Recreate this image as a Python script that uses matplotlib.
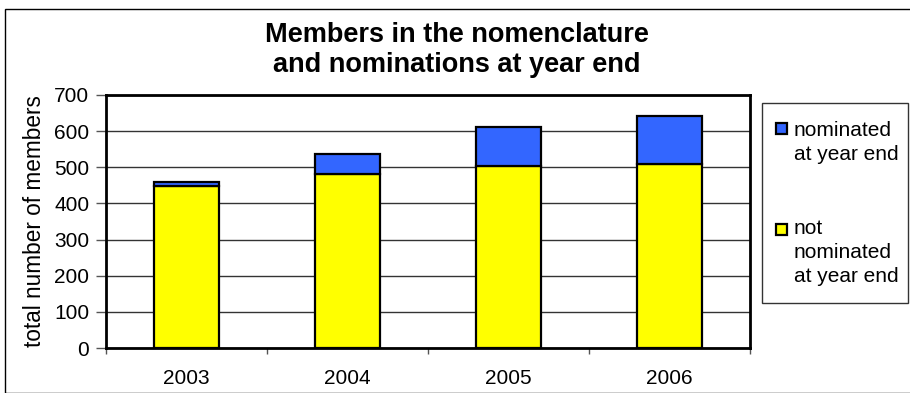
import matplotlib
matplotlib.use("Agg")
import matplotlib.pyplot as plt
from matplotlib.patches import Rectangle
import numpy as np

plt.rcParams['font.family'] = ['Liberation Sans', 'DejaVu Sans']

years = ["2003", "2004", "2005", "2006"]
not_nominated = [448, 481, 504, 509]
nominated = [12, 57, 107, 133]
y_ticks = [0, 100, 200, 300, 400, 500, 600, 700]
title_lines = ["Members in the nomenclature", "and nominations at year end"]
legend_labels = [["nominated", "at year end"], ["not", "nominated", "at year end"]]

YELLOW = "#FFFF00"
BLUE = "#3366FF"
FS = 15

W, H = 910, 393
fig = plt.figure(figsize=(W / 100, H / 100), dpi=100)

def fx(px):
    return px / W

def fy(py):
    return 1 - py / H

# chart area frame
fig.patches.append(Rectangle((fx(5), 0), 1.2, fy(9), transform=fig.transFigure,
                             fill=False, edgecolor="#000000", linewidth=1.0))

ax = fig.add_axes([fx(106), fy(348), fx(750) - fx(106), fy(95) - fy(348)])
x = np.arange(len(years))
ax.bar(x, not_nominated, width=0.4, color=YELLOW, edgecolor="black", linewidth=1.6, zorder=3)
ax.bar(x, nominated, bottom=not_nominated, width=0.4, color=BLUE, edgecolor="black",
       linewidth=1.6, zorder=3)

ax.set_xlim(-0.5, len(years) - 0.5)
ax.set_ylim(0, 700)
ax.set_yticks(y_ticks)
ax.set_yticklabels([str(v) for v in y_ticks], fontsize=FS)
ax.yaxis.grid(True, color="#333333", linewidth=1.0, zorder=0)
ax.set_axisbelow(True)

# category labels centred between boundary ticks
ax.set_xticks(x)
ax.set_xticklabels(years, fontsize=FS)
ax.tick_params(axis="x", length=0, pad=15)
ax.set_xticks(np.arange(-0.5, len(years), 1.0), minor=True)
ax.tick_params(axis="x", which="minor", length=4.5, width=1, color="#555555")
ax.tick_params(axis="y", length=7, width=1, color="#555555", pad=5)

for s in ax.spines.values():
    s.set_linewidth(2.0)
    s.set_color("black")

ax.set_ylabel("total number of members", fontsize=16.3, labelpad=6)

for line, base in zip(title_lines, [41.5, 71.5]):
    fig.text(fx(457), fy(base), line, ha="center", va="baseline",
             fontsize=19.5, fontweight="bold")

# legend box
fig.patches.append(Rectangle((fx(762), fy(303)), fx(908) - fx(762), fy(103) - fy(303),
                             transform=fig.transFigure, fill=False,
                             edgecolor="#333333", linewidth=1.0))
for color, lines, sq_top, base0 in [(BLUE, legend_labels[0], 123, 135.5),
                                    (YELLOW, legend_labels[1], 224, 234.5)]:
    fig.patches.append(Rectangle((fx(776), fy(sq_top + 11)), fx(11), fy(sq_top) - fy(sq_top + 11),
                                 transform=fig.transFigure, facecolor=color,
                                 edgecolor="black", linewidth=1.6))
    for i, txt in enumerate(lines):
        fig.text(fx(794), fy(base0 + 24 * i), txt, ha="left", va="baseline", fontsize=FS)

fig.savefig("out.png", dpi=100)
